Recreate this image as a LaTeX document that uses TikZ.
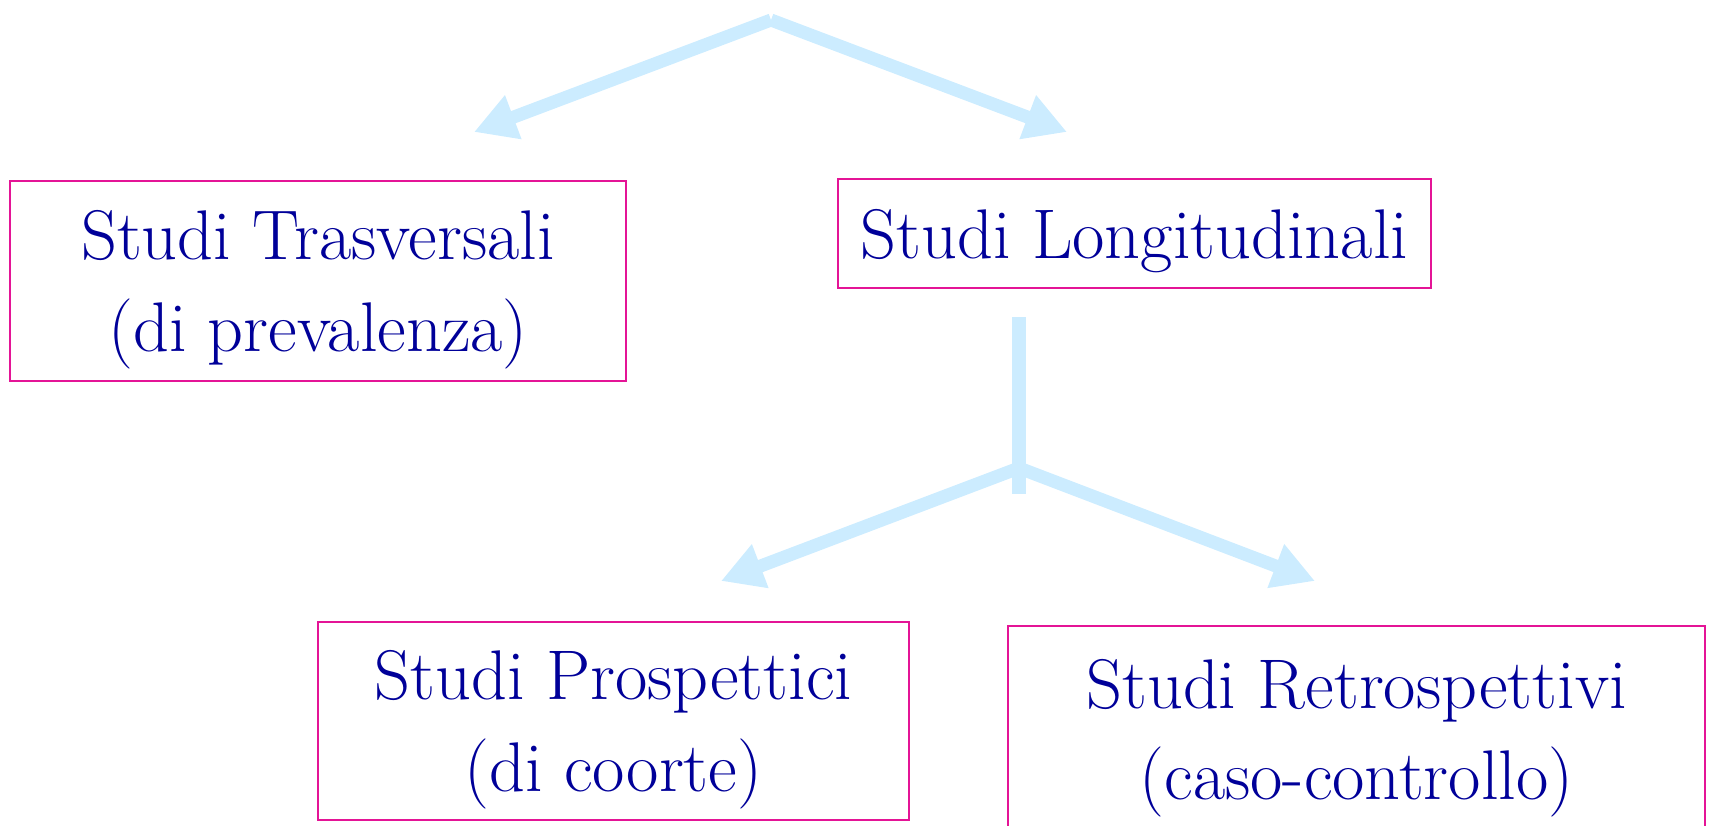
\documentclass[tikz,border=0pt]{standalone}
\usepackage{tkz-euclide}
\usetikzlibrary{arrows.meta}

\definecolor{frecce}{RGB}{204,236,255}
\definecolor{bordo}{RGB}{228,20,150}
\definecolor{testo}{RGB}{0,0,153}

\tikzset{
  scatola/.style={draw=bordo,line width=1.1pt,text=testo,align=center,
    inner sep=0pt,text depth=0pt,font=\fontsize{40}{52}\selectfont},
  freccia/.style={draw=frecce,line width=.26cm,line cap=butt,
    -{Triangle[length=.84cm,width=.88cm]}},
  asta/.style={draw=frecce,line width=.28cm,line cap=butt}
}

\begin{document}
\begin{tikzpicture}
\useasboundingbox (0,0) rectangle (34.26,-16.5);

% le quattro scatole
\node[scatola,minimum width=12.32cm,minimum height=4cm] (trasv) at (6.36,-5.62)
  {Studi Trasversali\\(di prevalenza)};
\node[scatola,minimum width=11.86cm,minimum height=2.18cm] (longit) at (22.69,-4.67)
  {Studi Longitudinali};
\node[scatola,minimum width=11.82cm,minimum height=3.96cm] (prosp) at (12.27,-14.42)
  {Studi Prospettici\\(di coorte)};
\node[scatola,minimum width=13.94cm,minimum height=4.14cm] (retro) at (27.13,-14.59)
  {Studi Retrospettivi\\(caso-controllo)};

% frecce in alto
\tkzDefPoint(15.42,-0.4){O}
\tkzDefPoint(9.48,-2.64){tT}
\tkzDefPoint(21.34,-2.64){tL}
\tkzDrawSegment[freccia](O,tT)
\tkzDrawSegment[freccia](O,tL)

% asta verticale
\tkzDefPoint(20.38,-6.34){H}
\tkzDefPoint(20.38,-9.88){K}
\tkzDrawSegment[asta](H,K)

% frecce in basso
\tkzDefPoint(20.38,-9.36){Q}
\tkzDefPoint(14.42,-11.62){tP}
\tkzDefPoint(26.3,-11.62){tR}
\tkzDrawSegment[freccia](Q,tP)
\tkzDrawSegment[freccia](Q,tR)

\end{tikzpicture}
\end{document}
